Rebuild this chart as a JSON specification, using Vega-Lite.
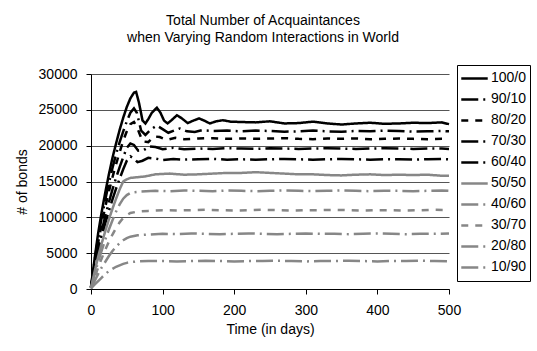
{
  "$schema": "https://vega.github.io/schema/vega-lite/v6.json",
  "width": 358,
  "height": 215,
  "autosize": {"type": "none"},
  "padding": {"left": 91, "top": 74, "right": 88, "bottom": 62},
  "background": "white",
  "config": {
    "font": "Liberation Sans",
    "view": {"stroke": null},
    "axis": {"labelFontSize": 14, "titleFontSize": 14, "labelColor": "black", "titleColor": "black", "titleFontWeight": "normal", "domainColor": "black", "tickColor": "black", "tickSize": 5}
  },
  "title": {
    "text": ["Total Number of Acquaintances", "when Varying Random Interactions in World"],
    "fontSize": 14,
    "fontWeight": "normal",
    "color": "black",
    "anchor": "middle",
    "frame": "group",
    "dx": -7,
    "offset": 20,
    "lineHeight": 17
  },
  "data": {"values": [
    {"series":"100/0","day":0,"bonds":300},{"series":"100/0","day":5,"bonds":4200},{"series":"100/0","day":10,"bonds":7800},{"series":"100/0","day":15,"bonds":10800},{"series":"100/0","day":20,"bonds":13500},{"series":"100/0","day":25,"bonds":16000},{"series":"100/0","day":30,"bonds":18300},{"series":"100/0","day":35,"bonds":20300},{"series":"100/0","day":40,"bonds":22200},{"series":"100/0","day":45,"bonds":23900},{"series":"100/0","day":50,"bonds":25400},{"series":"100/0","day":55,"bonds":26600},{"series":"100/0","day":60,"bonds":27400},{"series":"100/0","day":63,"bonds":27500},{"series":"100/0","day":67,"bonds":26000},{"series":"100/0","day":72,"bonds":23500},{"series":"100/0","day":76,"bonds":23100},{"series":"100/0","day":80,"bonds":23700},{"series":"100/0","day":85,"bonds":24600},{"series":"100/0","day":92,"bonds":25300},{"series":"100/0","day":97,"bonds":24600},{"series":"100/0","day":102,"bonds":23500},{"series":"100/0","day":107,"bonds":23100},{"series":"100/0","day":113,"bonds":23600},{"series":"100/0","day":120,"bonds":24250},{"series":"100/0","day":127,"bonds":23800},{"series":"100/0","day":135,"bonds":23150},{"series":"100/0","day":143,"bonds":23500},{"series":"100/0","day":151,"bonds":23800},{"series":"100/0","day":158,"bonds":23500},{"series":"100/0","day":166,"bonds":23100},{"series":"100/0","day":175,"bonds":23400},{"series":"100/0","day":184,"bonds":23550},{"series":"100/0","day":195,"bonds":23350},{"series":"100/0","day":210,"bonds":23300},{"series":"100/0","day":230,"bonds":23250},{"series":"100/0","day":250,"bonds":23400},{"series":"100/0","day":270,"bonds":23100},{"series":"100/0","day":290,"bonds":23150},{"series":"100/0","day":310,"bonds":23350},{"series":"100/0","day":330,"bonds":23100},{"series":"100/0","day":350,"bonds":22950},{"series":"100/0","day":370,"bonds":23100},{"series":"100/0","day":390,"bonds":23200},{"series":"100/0","day":410,"bonds":23050},{"series":"100/0","day":430,"bonds":23100},{"series":"100/0","day":450,"bonds":23200},{"series":"100/0","day":470,"bonds":23150},{"series":"100/0","day":490,"bonds":23250},{"series":"100/0","day":500,"bonds":23000},

    {"series":"90/10","day":0,"bonds":250},{"series":"90/10","day":5,"bonds":3900},{"series":"90/10","day":10,"bonds":7200},{"series":"90/10","day":15,"bonds":10000},{"series":"90/10","day":20,"bonds":12500},{"series":"90/10","day":25,"bonds":14800},{"series":"90/10","day":30,"bonds":16900},{"series":"90/10","day":35,"bonds":18800},{"series":"90/10","day":40,"bonds":20500},{"series":"90/10","day":45,"bonds":22000},{"series":"90/10","day":50,"bonds":23400},{"series":"90/10","day":55,"bonds":24600},{"series":"90/10","day":60,"bonds":25200},{"series":"90/10","day":64,"bonds":24600},{"series":"90/10","day":70,"bonds":22100},{"series":"90/10","day":76,"bonds":21500},{"series":"90/10","day":84,"bonds":22300},{"series":"90/10","day":92,"bonds":22800},{"series":"90/10","day":100,"bonds":22300},{"series":"90/10","day":108,"bonds":21800},{"series":"90/10","day":116,"bonds":22100},{"series":"90/10","day":124,"bonds":22400},{"series":"90/10","day":134,"bonds":22000},{"series":"90/10","day":145,"bonds":21900},{"series":"90/10","day":155,"bonds":22150},{"series":"90/10","day":170,"bonds":22050},{"series":"90/10","day":190,"bonds":22100},{"series":"90/10","day":210,"bonds":22000},{"series":"90/10","day":230,"bonds":22100},{"series":"90/10","day":250,"bonds":22050},{"series":"90/10","day":270,"bonds":21950},{"series":"90/10","day":290,"bonds":22000},{"series":"90/10","day":310,"bonds":22100},{"series":"90/10","day":330,"bonds":22000},{"series":"90/10","day":350,"bonds":21950},{"series":"90/10","day":370,"bonds":22050},{"series":"90/10","day":390,"bonds":22000},{"series":"90/10","day":410,"bonds":22100},{"series":"90/10","day":430,"bonds":22050},{"series":"90/10","day":450,"bonds":21950},{"series":"90/10","day":470,"bonds":22000},{"series":"90/10","day":490,"bonds":22050},{"series":"90/10","day":500,"bonds":22000},

    {"series":"80/20","day":0,"bonds":200},{"series":"80/20","day":5,"bonds":3500},{"series":"80/20","day":10,"bonds":6500},{"series":"80/20","day":15,"bonds":9100},{"series":"80/20","day":20,"bonds":11500},{"series":"80/20","day":25,"bonds":13600},{"series":"80/20","day":30,"bonds":15600},{"series":"80/20","day":35,"bonds":17400},{"series":"80/20","day":40,"bonds":19100},{"series":"80/20","day":45,"bonds":20700},{"series":"80/20","day":50,"bonds":22000},{"series":"80/20","day":55,"bonds":23000},{"series":"80/20","day":60,"bonds":23300},{"series":"80/20","day":65,"bonds":22400},{"series":"80/20","day":72,"bonds":20600},{"series":"80/20","day":80,"bonds":20500},{"series":"80/20","day":88,"bonds":21300},{"series":"80/20","day":96,"bonds":21200},{"series":"80/20","day":106,"bonds":20800},{"series":"80/20","day":118,"bonds":21100},{"series":"80/20","day":130,"bonds":20900},{"series":"80/20","day":150,"bonds":21000},{"series":"80/20","day":170,"bonds":21050},{"series":"80/20","day":190,"bonds":20950},{"series":"80/20","day":210,"bonds":21000},{"series":"80/20","day":230,"bonds":20950},{"series":"80/20","day":250,"bonds":21000},{"series":"80/20","day":270,"bonds":21050},{"series":"80/20","day":290,"bonds":20950},{"series":"80/20","day":310,"bonds":20900},{"series":"80/20","day":330,"bonds":21000},{"series":"80/20","day":350,"bonds":20950},{"series":"80/20","day":370,"bonds":21000},{"series":"80/20","day":390,"bonds":20900},{"series":"80/20","day":410,"bonds":20950},{"series":"80/20","day":430,"bonds":21000},{"series":"80/20","day":450,"bonds":20950},{"series":"80/20","day":470,"bonds":20900},{"series":"80/20","day":490,"bonds":20950},{"series":"80/20","day":500,"bonds":20900},

    {"series":"70/30","day":0,"bonds":200},{"series":"70/30","day":5,"bonds":3100},{"series":"70/30","day":10,"bonds":5800},{"series":"70/30","day":15,"bonds":8100},{"series":"70/30","day":20,"bonds":10200},{"series":"70/30","day":25,"bonds":12100},{"series":"70/30","day":30,"bonds":13900},{"series":"70/30","day":35,"bonds":15500},{"series":"70/30","day":40,"bonds":17000},{"series":"70/30","day":45,"bonds":18400},{"series":"70/30","day":50,"bonds":19700},{"series":"70/30","day":55,"bonds":20300},{"series":"70/30","day":60,"bonds":20100},{"series":"70/30","day":66,"bonds":19300},{"series":"70/30","day":74,"bonds":19400},{"series":"70/30","day":82,"bonds":19900},{"series":"70/30","day":90,"bonds":19800},{"series":"70/30","day":100,"bonds":19500},{"series":"70/30","day":115,"bonds":19700},{"series":"70/30","day":130,"bonds":19500},{"series":"70/30","day":150,"bonds":19600},{"series":"70/30","day":170,"bonds":19550},{"series":"70/30","day":190,"bonds":19650},{"series":"70/30","day":210,"bonds":19600},{"series":"70/30","day":230,"bonds":19550},{"series":"70/30","day":250,"bonds":19650},{"series":"70/30","day":270,"bonds":19600},{"series":"70/30","day":290,"bonds":19550},{"series":"70/30","day":310,"bonds":19600},{"series":"70/30","day":330,"bonds":19650},{"series":"70/30","day":350,"bonds":19600},{"series":"70/30","day":370,"bonds":19550},{"series":"70/30","day":390,"bonds":19600},{"series":"70/30","day":410,"bonds":19650},{"series":"70/30","day":430,"bonds":19600},{"series":"70/30","day":450,"bonds":19550},{"series":"70/30","day":470,"bonds":19600},{"series":"70/30","day":490,"bonds":19600},{"series":"70/30","day":500,"bonds":19550},

    {"series":"60/40","day":0,"bonds":150},{"series":"60/40","day":5,"bonds":2800},{"series":"60/40","day":10,"bonds":5200},{"series":"60/40","day":15,"bonds":7300},{"series":"60/40","day":20,"bonds":9200},{"series":"60/40","day":25,"bonds":10900},{"series":"60/40","day":30,"bonds":12500},{"series":"60/40","day":35,"bonds":14000},{"series":"60/40","day":40,"bonds":15400},{"series":"60/40","day":45,"bonds":16700},{"series":"60/40","day":50,"bonds":17900},{"series":"60/40","day":55,"bonds":18500},{"series":"60/40","day":60,"bonds":18200},{"series":"60/40","day":65,"bonds":17700},{"series":"60/40","day":72,"bonds":17900},{"series":"60/40","day":80,"bonds":18300},{"series":"60/40","day":90,"bonds":18200},{"series":"60/40","day":100,"bonds":18000},{"series":"60/40","day":115,"bonds":18150},{"series":"60/40","day":130,"bonds":18050},{"series":"60/40","day":150,"bonds":18100},{"series":"60/40","day":170,"bonds":18150},{"series":"60/40","day":190,"bonds":18050},{"series":"60/40","day":210,"bonds":18100},{"series":"60/40","day":230,"bonds":18050},{"series":"60/40","day":250,"bonds":18100},{"series":"60/40","day":270,"bonds":18150},{"series":"60/40","day":290,"bonds":18100},{"series":"60/40","day":310,"bonds":18050},{"series":"60/40","day":330,"bonds":18100},{"series":"60/40","day":350,"bonds":18150},{"series":"60/40","day":370,"bonds":18100},{"series":"60/40","day":390,"bonds":18050},{"series":"60/40","day":410,"bonds":18100},{"series":"60/40","day":430,"bonds":18100},{"series":"60/40","day":450,"bonds":18050},{"series":"60/40","day":470,"bonds":18100},{"series":"60/40","day":490,"bonds":18150},{"series":"60/40","day":500,"bonds":18100},

    {"series":"50/50","day":0,"bonds":150},{"series":"50/50","day":5,"bonds":2400},{"series":"50/50","day":10,"bonds":4500},{"series":"50/50","day":15,"bonds":6400},{"series":"50/50","day":20,"bonds":8100},{"series":"50/50","day":25,"bonds":9700},{"series":"50/50","day":30,"bonds":11200},{"series":"50/50","day":35,"bonds":12600},{"series":"50/50","day":40,"bonds":13900},{"series":"50/50","day":45,"bonds":15000},{"series":"50/50","day":50,"bonds":15300},{"series":"50/50","day":55,"bonds":15500},{"series":"50/50","day":65,"bonds":15600},{"series":"50/50","day":75,"bonds":15700},{"series":"50/50","day":90,"bonds":16000},{"series":"50/50","day":110,"bonds":16100},{"series":"50/50","day":130,"bonds":15950},{"series":"50/50","day":150,"bonds":16000},{"series":"50/50","day":170,"bonds":16100},{"series":"50/50","day":190,"bonds":16200},{"series":"50/50","day":210,"bonds":16200},{"series":"50/50","day":230,"bonds":16300},{"series":"50/50","day":250,"bonds":16200},{"series":"50/50","day":270,"bonds":16100},{"series":"50/50","day":290,"bonds":16000},{"series":"50/50","day":310,"bonds":16000},{"series":"50/50","day":330,"bonds":15900},{"series":"50/50","day":350,"bonds":15850},{"series":"50/50","day":370,"bonds":15950},{"series":"50/50","day":390,"bonds":16000},{"series":"50/50","day":410,"bonds":15900},{"series":"50/50","day":430,"bonds":15950},{"series":"50/50","day":450,"bonds":15900},{"series":"50/50","day":470,"bonds":15950},{"series":"50/50","day":490,"bonds":15800},{"series":"50/50","day":500,"bonds":15800},

    {"series":"40/60","day":0,"bonds":100},{"series":"40/60","day":5,"bonds":2000},{"series":"40/60","day":10,"bonds":3800},{"series":"40/60","day":15,"bonds":5400},{"series":"40/60","day":20,"bonds":6900},{"series":"40/60","day":25,"bonds":8300},{"series":"40/60","day":30,"bonds":9600},{"series":"40/60","day":35,"bonds":10800},{"series":"40/60","day":40,"bonds":11800},{"series":"40/60","day":45,"bonds":12600},{"series":"40/60","day":50,"bonds":13100},{"series":"40/60","day":55,"bonds":13400},{"series":"40/60","day":60,"bonds":13500},{"series":"40/60","day":70,"bonds":13600},{"series":"40/60","day":90,"bonds":13700},{"series":"40/60","day":110,"bonds":13650},{"series":"40/60","day":130,"bonds":13750},{"series":"40/60","day":150,"bonds":13700},{"series":"40/60","day":170,"bonds":13650},{"series":"40/60","day":190,"bonds":13750},{"series":"40/60","day":210,"bonds":13700},{"series":"40/60","day":230,"bonds":13650},{"series":"40/60","day":250,"bonds":13700},{"series":"40/60","day":270,"bonds":13750},{"series":"40/60","day":290,"bonds":13700},{"series":"40/60","day":310,"bonds":13650},{"series":"40/60","day":330,"bonds":13700},{"series":"40/60","day":350,"bonds":13750},{"series":"40/60","day":370,"bonds":13700},{"series":"40/60","day":390,"bonds":13650},{"series":"40/60","day":410,"bonds":13700},{"series":"40/60","day":430,"bonds":13700},{"series":"40/60","day":450,"bonds":13650},{"series":"40/60","day":470,"bonds":13700},{"series":"40/60","day":490,"bonds":13750},{"series":"40/60","day":500,"bonds":13700},

    {"series":"30/70","day":0,"bonds":100},{"series":"30/70","day":5,"bonds":1600},{"series":"30/70","day":10,"bonds":3000},{"series":"30/70","day":15,"bonds":4300},{"series":"30/70","day":20,"bonds":5500},{"series":"30/70","day":25,"bonds":6600},{"series":"30/70","day":30,"bonds":7600},{"series":"30/70","day":35,"bonds":8500},{"series":"30/70","day":40,"bonds":9300},{"series":"30/70","day":45,"bonds":9900},{"series":"30/70","day":50,"bonds":10300},{"series":"30/70","day":55,"bonds":10600},{"series":"30/70","day":65,"bonds":10800},{"series":"30/70","day":80,"bonds":10900},{"series":"30/70","day":100,"bonds":11000},{"series":"30/70","day":120,"bonds":10950},{"series":"30/70","day":140,"bonds":11000},{"series":"30/70","day":160,"bonds":11050},{"series":"30/70","day":180,"bonds":11000},{"series":"30/70","day":200,"bonds":10950},{"series":"30/70","day":220,"bonds":11000},{"series":"30/70","day":240,"bonds":11050},{"series":"30/70","day":260,"bonds":11000},{"series":"30/70","day":280,"bonds":10950},{"series":"30/70","day":300,"bonds":11000},{"series":"30/70","day":320,"bonds":11000},{"series":"30/70","day":340,"bonds":11050},{"series":"30/70","day":360,"bonds":11000},{"series":"30/70","day":380,"bonds":10950},{"series":"30/70","day":400,"bonds":11000},{"series":"30/70","day":420,"bonds":11000},{"series":"30/70","day":440,"bonds":10950},{"series":"30/70","day":460,"bonds":11000},{"series":"30/70","day":480,"bonds":11050},{"series":"30/70","day":500,"bonds":11000},

    {"series":"20/80","day":0,"bonds":100},{"series":"20/80","day":5,"bonds":1100},{"series":"20/80","day":10,"bonds":2100},{"series":"20/80","day":15,"bonds":3000},{"series":"20/80","day":20,"bonds":3800},{"series":"20/80","day":25,"bonds":4600},{"series":"20/80","day":30,"bonds":5300},{"series":"20/80","day":35,"bonds":5900},{"series":"20/80","day":40,"bonds":6400},{"series":"20/80","day":45,"bonds":6800},{"series":"20/80","day":50,"bonds":7100},{"series":"20/80","day":55,"bonds":7300},{"series":"20/80","day":65,"bonds":7500},{"series":"20/80","day":80,"bonds":7600},{"series":"20/80","day":100,"bonds":7700},{"series":"20/80","day":120,"bonds":7650},{"series":"20/80","day":140,"bonds":7750},{"series":"20/80","day":160,"bonds":7700},{"series":"20/80","day":180,"bonds":7650},{"series":"20/80","day":200,"bonds":7700},{"series":"20/80","day":220,"bonds":7750},{"series":"20/80","day":240,"bonds":7700},{"series":"20/80","day":260,"bonds":7650},{"series":"20/80","day":280,"bonds":7700},{"series":"20/80","day":300,"bonds":7750},{"series":"20/80","day":320,"bonds":7700},{"series":"20/80","day":340,"bonds":7700},{"series":"20/80","day":360,"bonds":7650},{"series":"20/80","day":380,"bonds":7700},{"series":"20/80","day":400,"bonds":7750},{"series":"20/80","day":420,"bonds":7700},{"series":"20/80","day":440,"bonds":7650},{"series":"20/80","day":460,"bonds":7700},{"series":"20/80","day":480,"bonds":7700},{"series":"20/80","day":500,"bonds":7750},

    {"series":"10/90","day":0,"bonds":100},{"series":"10/90","day":5,"bonds":600},{"series":"10/90","day":10,"bonds":1100},{"series":"10/90","day":15,"bonds":1600},{"series":"10/90","day":20,"bonds":2100},{"series":"10/90","day":25,"bonds":2500},{"series":"10/90","day":30,"bonds":2800},{"series":"10/90","day":35,"bonds":3100},{"series":"10/90","day":40,"bonds":3300},{"series":"10/90","day":45,"bonds":3500},{"series":"10/90","day":50,"bonds":3650},{"series":"10/90","day":55,"bonds":3750},{"series":"10/90","day":65,"bonds":3850},{"series":"10/90","day":80,"bonds":3900},{"series":"10/90","day":100,"bonds":3900},{"series":"10/90","day":120,"bonds":3850},{"series":"10/90","day":140,"bonds":3900},{"series":"10/90","day":160,"bonds":3950},{"series":"10/90","day":180,"bonds":3900},{"series":"10/90","day":200,"bonds":3850},{"series":"10/90","day":220,"bonds":3900},{"series":"10/90","day":240,"bonds":3900},{"series":"10/90","day":260,"bonds":3950},{"series":"10/90","day":280,"bonds":3900},{"series":"10/90","day":300,"bonds":3850},{"series":"10/90","day":320,"bonds":3900},{"series":"10/90","day":340,"bonds":3900},{"series":"10/90","day":360,"bonds":3950},{"series":"10/90","day":380,"bonds":3900},{"series":"10/90","day":400,"bonds":3850},{"series":"10/90","day":420,"bonds":3900},{"series":"10/90","day":440,"bonds":3900},{"series":"10/90","day":460,"bonds":3950},{"series":"10/90","day":480,"bonds":3900},{"series":"10/90","day":500,"bonds":3850}
  ]},
  "mark": {"type": "line", "strokeWidth": 2.5, "interpolate": "linear"},
  "encoding": {
    "x": {
      "field": "day", "type": "quantitative",
      "scale": {"domain": [0, 500], "nice": false},
      "axis": {"title": "Time (in days)", "values": [0, 100, 200, 300, 400, 500], "grid": false, "labelPadding": 9, "titleY": 40, "titleBaseline": "middle", "labelFlush": false}
    },
    "y": {
      "field": "bonds", "type": "quantitative",
      "scale": {"domain": [0, 30000], "nice": false},
      "axis": {"title": "# of bonds", "values": [0, 5000, 10000, 15000, 20000, 25000, 30000], "format": "d", "grid": true, "gridColor": "#555555", "gridWidth": 1, "labelPadding": 9, "titleX": -69, "titleY": 107.5, "titleAngle": -90, "titleBaseline": "middle", "titleAlign": "center", "labelFlush": false}
    },
    "color": {
      "field": "series", "type": "nominal",
      "scale": {
        "domain": ["100/0", "90/10", "80/20", "70/30", "60/40", "50/50", "40/60", "30/70", "20/80", "10/90"],
        "range": ["#000000", "#000000", "#000000", "#000000", "#000000", "#878787", "#878787", "#878787", "#878787", "#878787"]
      },
      "legend": {
        "title": null, "orient": "none", "legendX": 366, "legendY": -9,
        "strokeColor": "black", "padding": 3, "symbolType": "stroke", "symbolSize": 700,
        "symbolStrokeWidth": 2.5, "labelFontSize": 14, "labelColor": "black", "labelOffset": 2,
        "clipHeight": 20.8, "rowPadding": 0, "fillColor": "white"
      }
    },
    "strokeDash": {
      "field": "series", "type": "nominal",
      "scale": {
        "domain": ["100/0", "90/10", "80/20", "70/30", "60/40", "50/50", "40/60", "30/70", "20/80", "10/90"],
        "range": [[1, 0], [17, 5, 2, 5], [7, 7], [17, 5, 2, 5], [17, 5, 2, 5], [1, 0], [17, 5, 2, 5], [7, 7], [17, 5, 2, 5], [17, 5, 2, 5]]
      }
    }
  }
}
